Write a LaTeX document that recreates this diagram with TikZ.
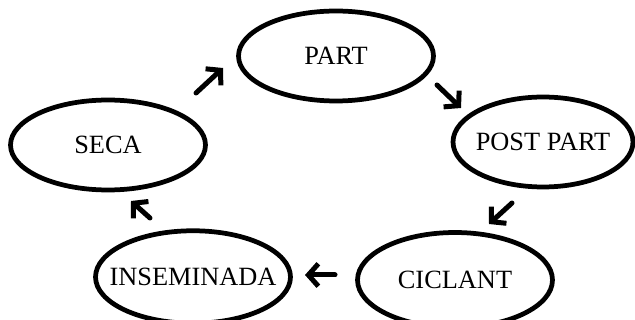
\documentclass[tikz,border=0pt]{standalone}
\usepackage{fontspec}
\setmainfont{Liberation Serif}
\usetikzlibrary{shapes.geometric,arrows.meta}
\begin{document}
\begin{tikzpicture}[x=0.02cm,y=-0.02cm,line join=round,line cap=round,
	font=\fontsize{15}{18}\selectfont]
	\tikzset{estado/.style={draw,ellipse,line width=0.095cm,inner sep=0pt,
			minimum width=3.9cm,minimum height=1.8cm},
		flecha/.style={line width=0.1cm,-{Straight Barb[length=0.2cm,width=0.45cm]}}}
	\useasboundingbox (0,0) rectangle (635,320);
	% estados
	\node[estado] (part) at (336,56) {PART};
	\node[estado,minimum width=3.6cm] (post) at (543,142) {\makebox[0pt]{POST PART}};
	\node[estado,minimum height=1.9cm] (ciclant) at (455,280) {CICLANT};
	\node[estado,minimum height=1.85cm] (insem) at (193,277) {\makebox[0pt]{INSEMINADA}};
	\node[estado] (seca) at (108,145) {SECA};
	% flechas
	\coordinate (a1) at (196,93);  \coordinate (b1) at (223,68);
	\coordinate (a2) at (437,85);  \coordinate (b2) at (461,108);
	\coordinate (a3) at (512,203); \coordinate (b3) at (489,224);
	\coordinate (a4) at (335,275); \coordinate (b4) at (305,275);
	\coordinate (a5) at (150,218); \coordinate (b5) at (131,201);
	\foreach \i in {1,...,5}{\draw[flecha] (a\i)--(b\i);}
\end{tikzpicture}
\end{document}
